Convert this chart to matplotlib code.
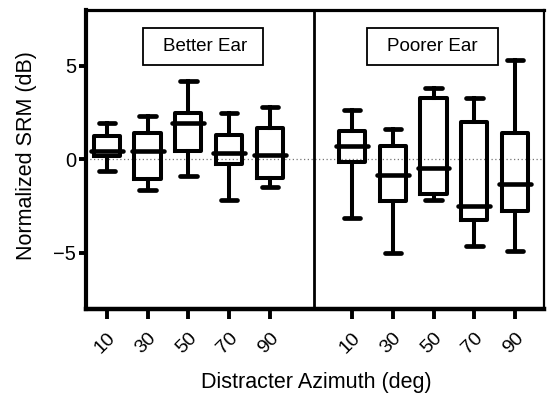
import matplotlib.pyplot as plt
from matplotlib.patches import Rectangle

plt.rcParams['font.family'] = ['Liberation Sans', 'DejaVu Sans']

# azimuth labels and box statistics (whisker low, q1, median, q3, whisker high)
azimuths = ['10', '30', '50', '70', '90']

better_lo = [-0.6, -1.62, -0.91, -2.17, -1.5]
better_q1 = [0.2, -1.05, 0.43, -0.25, -1.0]
better_med = [0.47, 0.43, 1.93, 0.32, 0.25]
better_q3 = [1.27, 1.41, 2.46, 1.3, 1.66]
better_hi = [1.96, 2.33, 4.21, 2.5, 2.82]

poorer_lo = [-3.13, -5.0, -2.15, -4.61, -4.92]
poorer_q1 = [-0.16, -2.21, -1.85, -3.22, -2.74]
poorer_med = [0.73, -0.82, -0.48, -2.51, -1.32]
poorer_q3 = [1.5, 0.73, 3.26, 2.02, 1.39]
poorer_hi = [2.66, 1.63, 3.82, 3.26, 5.33]

pos_better = [1, 2, 3, 4, 5]
pos_poorer = [7, 8, 9, 10, 11]


def make_stats(lo, q1, med, q3, hi):
    return [dict(whislo=a, q1=b, med=c, q3=d, whishi=e, fliers=[])
            for a, b, c, d, e in zip(lo, q1, med, q3, hi)]


fig = plt.figure(figsize=(5.47, 3.94), dpi=100)
ax = fig.add_axes([0.157, 0.216, 0.838, 0.759])

lw = 2.9
style = dict(
    widths=0.64, showfliers=False,
    boxprops=dict(color='black', linewidth=lw),
    whiskerprops=dict(color='black', linewidth=lw),
    capprops=dict(color='black', linewidth=3.4, solid_capstyle='round'),
    medianprops=dict(color='black', linewidth=3.3, solid_capstyle='round'),
)

bp1 = ax.bxp(make_stats(better_lo, better_q1, better_med, better_q3, better_hi),
             positions=pos_better, capwidths=0.4, **style)
bp2 = ax.bxp(make_stats(poorer_lo, poorer_q1, poorer_med, poorer_q3, poorer_hi),
             positions=pos_poorer, capwidths=0.4, **style)

# medians stick out slightly past the box
for bp in (bp1, bp2):
    for m in bp['medians']:
        x = m.get_xdata()
        m.set_xdata([x[0] - 0.07, x[1] + 0.07])

ax.axhline(0, color='#777777', linestyle=(0, (1, 2)), linewidth=0.9, zorder=0)
ax.axvline(6.07, color='black', linewidth=2)

ax.set_xlim(0.49, 11.71)
ax.set_ylim(-8, 8)

ax.set_xticks(pos_better + pos_poorer)
ax.set_xticklabels(azimuths + azimuths, rotation=45, ha='right', va='top',
                   rotation_mode='anchor', fontsize=14)
ax.set_yticks([-5, 0, 5])
ax.tick_params(axis='y', labelsize=14.5, width=2.8, length=5, pad=2)
ax.tick_params(axis='x', width=2.8, length=7, pad=8)

ax.spines['left'].set_linewidth(3)
ax.spines['bottom'].set_linewidth(3.2)
ax.spines['top'].set_linewidth(2.3)
ax.spines['right'].set_linewidth(1.6)

ax.set_ylabel('Normalized SRM (dB)', fontsize=15.5)
ax.set_xlabel('Distracter Azimuth (deg)', fontsize=15.5)
ax.yaxis.set_label_coords(-0.106, 0.512)
ax.xaxis.set_label_coords(0.502, -0.212)

# panel label boxes
ax.add_patch(Rectangle((1.89, 5.06), 2.94, 1.98, facecolor='white',
                       edgecolor='black', linewidth=1.3, zorder=3))
ax.add_patch(Rectangle((7.38, 5.06), 3.19, 1.98, facecolor='white',
                       edgecolor='black', linewidth=1.3, zorder=3))
ax.text(3.4, 6.05, 'Better Ear', ha='center', va='center', fontsize=13.5, zorder=4)
ax.text(8.97, 6.05, 'Poorer Ear', ha='center', va='center', fontsize=13.5, zorder=4)

fig.savefig('out.png', dpi=100)
